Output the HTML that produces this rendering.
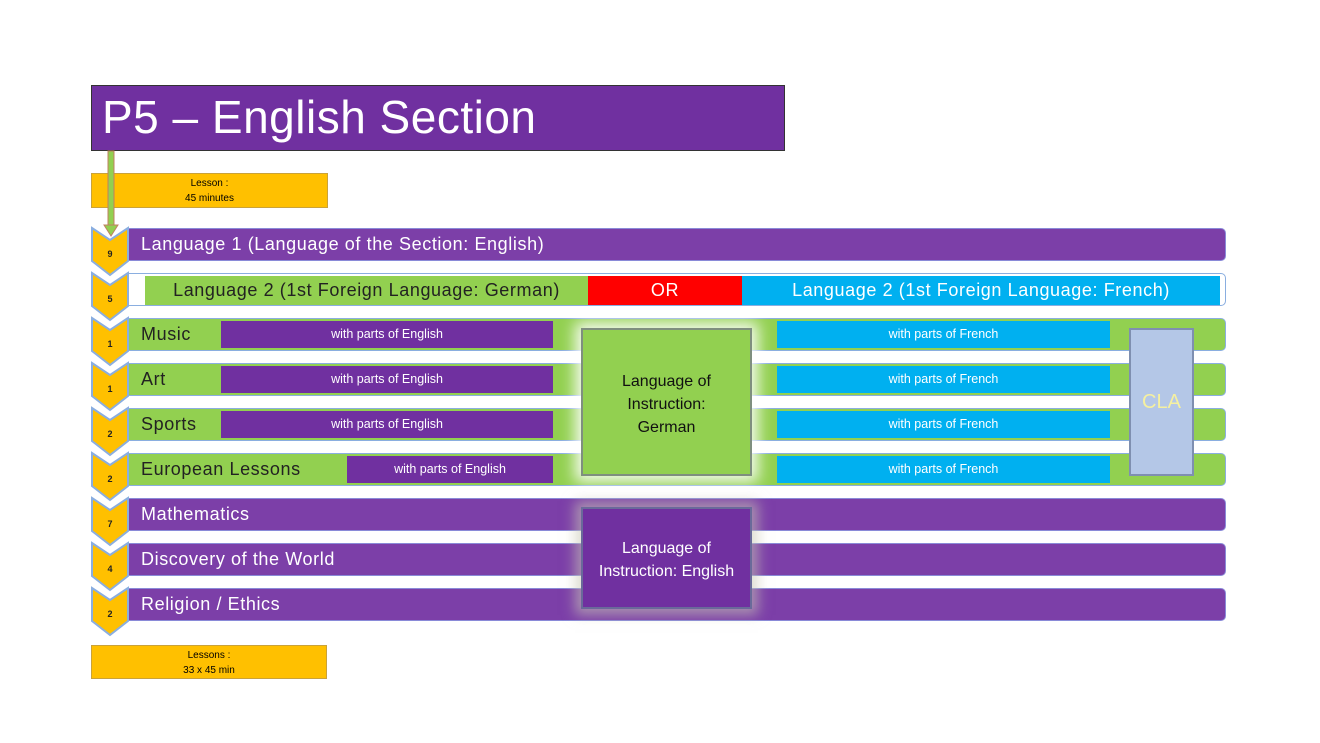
<!DOCTYPE html>
<html><head><style>
body{margin:0;width:1320px;height:743px;background:#fff;position:relative;overflow:hidden;font-family:"Liberation Sans",sans-serif}
div{position:absolute;box-sizing:border-box}
.bar{left:128px;width:1098px;height:33px;border-radius:0 5px 5px 0;color:#fff;font-size:18px;letter-spacing:0.6px;line-height:31px;padding-left:12px}
.p{background:#7c3fa8;border:1px solid #8a8ad8}
.g{background:#92d050;border:1px solid #8aaee0;color:#222}
.wp{background:#7030a0;color:#fff;font-size:12.5px;text-align:center;height:27px;line-height:27px}
.wf{background:#00b0f0;color:#fff;font-size:12.5px;text-align:center;height:27px;line-height:27px;left:777px;width:333px}
.y{background:#ffc000;border:1px solid #c9a23a;font-size:10px;text-align:center;line-height:15px;padding-top:2px}
</style></head><body>
<div style="left:91px;top:85px;width:694px;height:66px;background:#7030a0;border:1px solid #333;color:#fff;font-size:46px;letter-spacing:0.5px;line-height:62px;padding-left:10px">P5 – English Section</div>
<div class="y" style="left:91px;top:173px;width:237px;height:35px">Lesson :<br>45 minutes</div>
<div class="y" style="left:91px;top:645px;width:236px;height:34px">Lessons :<br>33 x 45 min</div>

<div class="bar p" style="top:228px">Language 1 (Language of the Section: English)</div>
<div class="bar" style="top:273px;background:#fff;border:1px solid #8aaee0"></div>
<div style="left:145px;top:276px;width:443px;height:29px;background:#92d050;color:#222;font-size:18px;letter-spacing:0.6px;line-height:29px;text-align:center">Language 2 (1st Foreign Language: German)</div>
<div style="left:588px;top:276px;width:154px;height:29px;background:#ff0000;color:#fff;font-size:18px;letter-spacing:0.6px;line-height:29px;text-align:center">OR</div>
<div style="left:742px;top:276px;width:478px;height:29px;background:#00b0f0;color:#fff;font-size:18px;letter-spacing:0.6px;line-height:29px;text-align:center">Language 2 (1st Foreign Language: French)</div>

<div class="bar g" style="top:318px">Music</div>
<div class="bar g" style="top:363px">Art</div>
<div class="bar g" style="top:408px">Sports</div>
<div class="bar g" style="top:453px">European Lessons</div>
<div class="wp" style="left:221px;width:332px;top:321px">with parts of English</div>
<div class="wp" style="left:221px;width:332px;top:366px">with parts of English</div>
<div class="wp" style="left:221px;width:332px;top:411px">with parts of English</div>
<div class="wp" style="left:347px;width:206px;top:456px">with parts of English</div>
<div class="wf" style="top:321px">with parts of French</div>
<div class="wf" style="top:366px">with parts of French</div>
<div class="wf" style="top:411px">with parts of French</div>
<div class="wf" style="top:456px">with parts of French</div>

<div class="bar p" style="top:498px">Mathematics</div>
<div class="bar p" style="top:543px">Discovery of the World</div>
<div class="bar p" style="top:588px">Religion / Ethics</div>

<div style="left:581px;top:328px;width:171px;height:148px;background:#92d050;border:2px solid #7f8f7f;box-shadow:0 0 14px 6px rgba(255,255,255,.9);color:#111;font-size:16px;text-align:center;padding-top:40px;line-height:23px">Language of<br>Instruction:<br>German</div>
<div style="left:1129px;top:328px;width:65px;height:148px;background:#b4c7e7;border:2px solid #7f8fb0;color:#f5f0a0;font-size:20px;text-align:center;line-height:144px">CLA</div>
<div style="left:581px;top:507px;width:171px;height:102px;background:#7030a0;border:2px solid #6a6a9a;box-shadow:0 0 12px 6px rgba(200,200,180,.6);color:#fff;font-size:16px;text-align:center;padding-top:28px;line-height:23px">Language of<br>Instruction: English</div>

<svg width="1320" height="743" style="position:absolute;left:0;top:0">
<g fill="#ffc000" stroke="#8aaee0" stroke-width="2">
<polygon points="92,228 110,240 128,228 128,261 110,275 92,261"/>
<polygon points="92,273 110,285 128,273 128,306 110,320 92,306"/>
<polygon points="92,318 110,330 128,318 128,351 110,365 92,351"/>
<polygon points="92,363 110,375 128,363 128,396 110,410 92,396"/>
<polygon points="92,408 110,420 128,408 128,441 110,455 92,441"/>
<polygon points="92,453 110,465 128,453 128,486 110,500 92,486"/>
<polygon points="92,498 110,510 128,498 128,531 110,545 92,531"/>
<polygon points="92,543 110,555 128,543 128,576 110,590 92,576"/>
<polygon points="92,588 110,600 128,588 128,621 110,635 92,621"/>
</g>
<g font-family="Liberation Sans" font-size="9" font-weight="bold" fill="#222" text-anchor="middle">
<text x="110" y="257">9</text><text x="110" y="302">5</text><text x="110" y="347">1</text><text x="110" y="392">1</text><text x="110" y="437">2</text><text x="110" y="482">2</text><text x="110" y="527">7</text><text x="110" y="572">4</text><text x="110" y="617">2</text>
</g>
<rect x="108" y="151" width="6" height="75" fill="#92d050" stroke="#c08060" stroke-width="1"/>
<polygon points="104,225 118,225 111,236" fill="#92d050" stroke="#c08060"/>
</svg>
</body></html>
